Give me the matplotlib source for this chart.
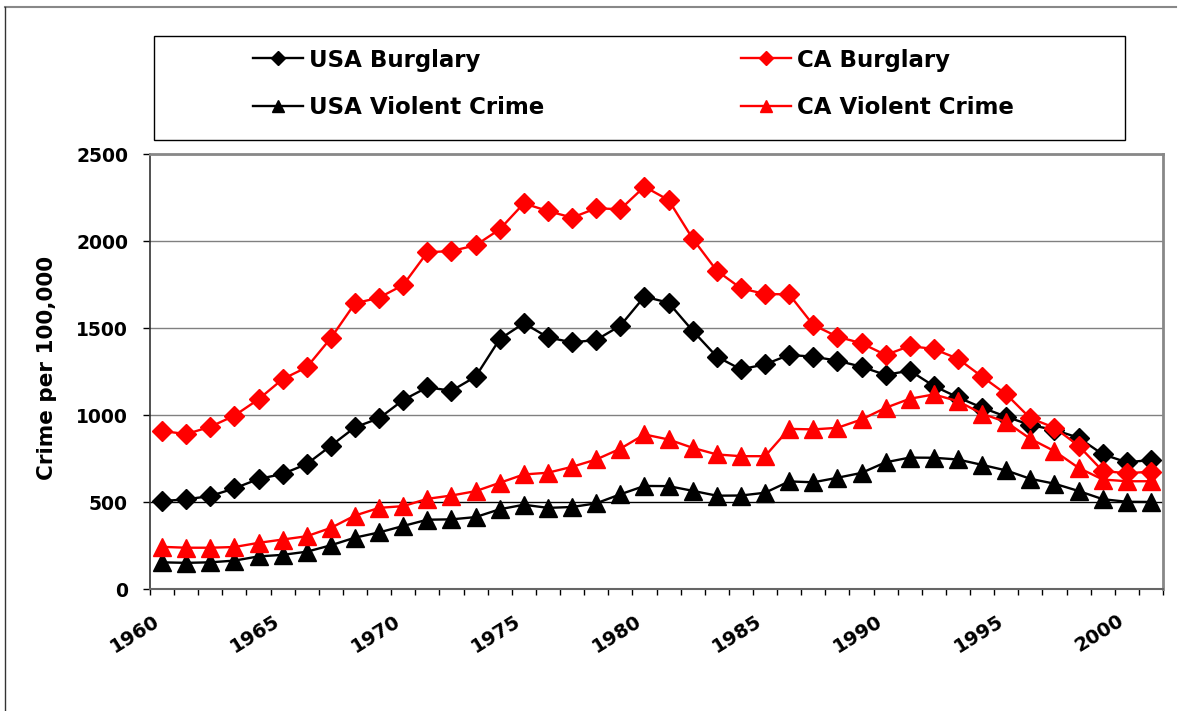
import numpy as np
import matplotlib
matplotlib.use("Agg")
import matplotlib.pyplot as plt
from matplotlib.patches import Rectangle
from matplotlib.lines import Line2D
from matplotlib.transforms import ScaledTranslation

years = list(range(1960, 2002))

usa_burglary = [507, 517, 536, 580, 634, 663, 720, 825, 931, 983,
                1088, 1161, 1141, 1222, 1438, 1529, 1448, 1419, 1433, 1515,
                1682, 1647, 1486, 1337, 1264, 1293, 1347, 1337, 1314, 1279,
                1232, 1257, 1168, 1103, 1044, 992, 944, 916, 871, 776, 730, 743]
ca_burglary = [910, 892, 934, 998, 1092, 1208, 1276, 1444, 1644, 1676,
               1749, 1937, 1944, 1977, 2069, 2218, 2174, 2136, 2190, 2184,
               2314, 2237, 2015, 1831, 1730, 1697, 1695, 1519, 1452, 1414,
               1347, 1398, 1381, 1325, 1222, 1121, 983, 929, 825, 680, 667, 676]
usa_violent = [155, 152, 155, 165, 189, 198, 216, 253, 297, 327,
               364, 400, 402, 415, 460, 486, 468, 473, 494, 546,
               594, 593, 566, 538, 539, 555, 620, 615, 641, 669,
               730, 757, 756, 746, 715, 683, 635, 607, 565, 518, 503, 502]
ca_violent = [244, 239, 239, 243, 267, 286, 305, 353, 424, 468,
              478, 520, 539, 564, 612, 660, 670, 704, 746, 808,
              890, 861, 813, 775, 765, 765, 922, 919, 928, 976,
              1043, 1095, 1120, 1081, 1009, 961, 865, 794, 698, 631, 621, 621]

series_names = ["USA Burglary", "USA Violent Crime", "CA Burglary", "CA Violent Crime"]

W, H = 1185, 711
fig = plt.figure(figsize=(W / 100, H / 100), dpi=100)
fig.patch.set_facecolor("white")

# outer border
fig.add_artist(Line2D([4.5 / W, 1176 / W], [1 - 6.5 / H, 1 - 6.5 / H],
                      transform=fig.transFigure, color="#888888", lw=1.5))
fig.add_artist(Line2D([4.5 / W, 4.5 / W], [1 - 6.5 / H, 0],
                      transform=fig.transFigure, color="#333333", lw=1.0))

ax_l, ax_r, ax_t, ax_b = 150, 1163, 154.3, 589.3
ax = fig.add_axes([ax_l / W, 1 - ax_b / H, (ax_r - ax_l) / W, (ax_b - ax_t) / H])

x = np.arange(len(years)) + 0.5
fnt = "DejaVu Sans"

ax.plot(x, usa_burglary, color="black", marker="D", ms=10, lw=1.7, label=series_names[0], zorder=3)
ax.plot(x, usa_violent, color="black", marker="^", ms=12.5, lw=1.7, label=series_names[1], zorder=3)
ax.plot(x, ca_burglary, color="#FF0000", marker="D", ms=10, lw=1.7, label=series_names[2], zorder=4)
ax.plot(x, ca_violent, color="#FF0000", marker="^", ms=12.5, lw=1.7, label=series_names[3], zorder=4)

ax.set_xlim(0, len(years))
ax.set_ylim(0, 2500)
ax.set_yticks(range(0, 2501, 500))
ax.set_yticklabels([str(v) for v in range(0, 2501, 500)],
                   fontsize=13.5, fontweight="bold", family=fnt)
ax.set_xticks(np.arange(0, len(years) + 1))
xlabels = [str(years[i]) if (i < len(years) and i % 5 == 0) else "" for i in range(len(years) + 1)]
ax.set_xticklabels(xlabels, fontsize=14, fontweight="bold", family=fnt,
                   rotation=32, ha="right", va="center", rotation_mode="anchor")

ax.tick_params(axis="y", direction="out", length=5, width=1, pad=10.8, colors="black")
ax.tick_params(axis="x", direction="out", length=4.3, width=1, pad=17.3, colors="black")

off = ScaledTranslation(7.5 / 100, 0, fig.dpi_scale_trans)
for lbl in ax.get_xticklabels():
    lbl.set_transform(lbl.get_transform() + off)

ax.grid(axis="y", color="#808080", lw=1)
ax.set_axisbelow(True)
gls = ax.yaxis.get_gridlines()
gls[1].set_color("black")

ax.spines["top"].set_color("#888888")
ax.spines["top"].set_linewidth(2)
ax.spines["right"].set_color("#888888")
ax.spines["right"].set_linewidth(2)
ax.spines["left"].set_color("#333333")
ax.spines["left"].set_linewidth(1.2)
ax.spines["bottom"].set_color("#666666")
ax.spines["bottom"].set_linewidth(1.5)

ax.set_ylabel("Crime per 100,000", fontsize=15.5, fontweight="bold", family=fnt)
ax.yaxis.set_label_coords((57 - ax_l) / (ax_r - ax_l), (ax_b - 368) / (ax_b - ax_t))

# legend
fig.add_artist(Rectangle((154 / W, 1 - 140 / H), (1125 - 154) / W, (140 - 36) / H,
                         transform=fig.transFigure, fill=False, ec="black", lw=1))
leg = fig.legend(loc="upper left", bbox_to_anchor=(253 / W, 1 - 48.5 / H),
                 bbox_transform=fig.transFigure, ncol=2, frameon=False,
                 prop={"family": fnt, "weight": "bold", "size": 16.5},
                 handlelength=2.17, handletextpad=0.26, columnspacing=8.6,
                 labelspacing=1.05, borderpad=0, borderaxespad=0, markerscale=0.7)

fig.savefig("out.png", dpi=100)
